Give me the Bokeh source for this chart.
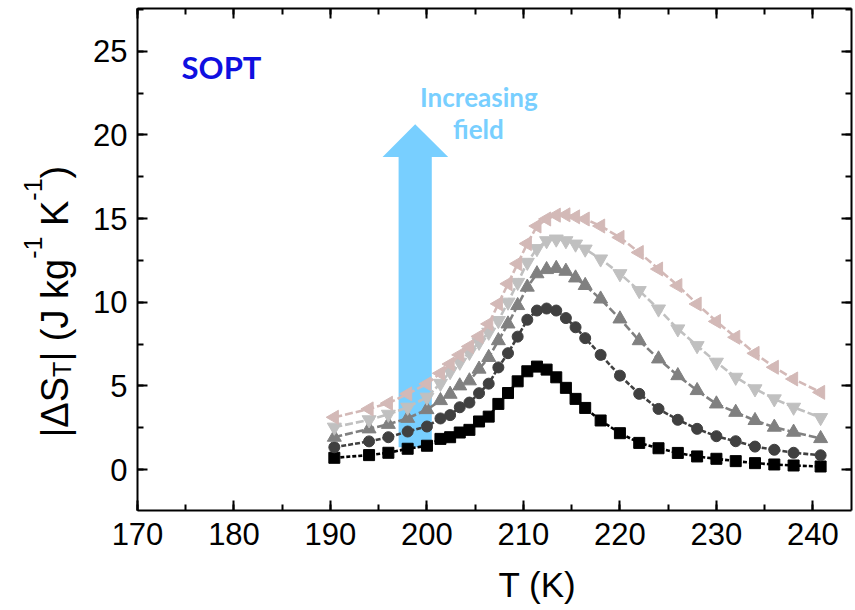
import math
from bokeh.plotting import figure
from bokeh.layouts import row, column
from bokeh.models import Range1d, LinearAxis, SingleIntervalTicker
from bokeh.core.properties import value
from bokeh.embed import file_html
from bokeh.resources import INLINE

# ---------------- data ----------------
T = [190.4, 194, 196, 198, 200, 201.4, 202.4, 203.4, 204.4, 205.4, 206.4,
     207.4, 208.4, 209.4, 210.4, 211.4, 212.4, 213.4, 214.4, 215.4, 216.4,
     218, 220, 222, 224, 226, 228, 230, 232, 234, 236, 238, 240.8]

S_sq = [0.70, 0.86, 1.00, 1.24, 1.42, 1.83, 1.93, 2.21, 2.37, 2.87, 3.16,
        3.92, 4.57, 5.27, 5.87, 6.15, 5.97, 5.51, 4.88, 4.22, 3.68,
        2.93, 2.17, 1.59, 1.27, 0.99, 0.78, 0.64, 0.50, 0.38, 0.30, 0.24, 0.18]

S_ci = [1.33, 1.68, 1.93, 2.27, 2.57, 3.05, 3.25, 3.72, 4.00, 4.56, 5.13,
        6.10, 6.95, 7.94, 8.95, 9.50, 9.62, 9.50, 9.05, 8.50, 7.85,
        6.85, 5.61, 4.52, 3.62, 2.97, 2.43, 1.99, 1.69, 1.37, 1.18, 1.00, 0.85]

S_up = [1.93, 2.43, 2.70, 3.06, 3.58, 4.12, 4.50, 5.00, 5.30, 6.00, 6.70,
        7.70, 8.70, 9.80, 10.90, 11.70, 11.95, 12.02, 11.85, 11.45, 11.00,
        10.19, 9.00, 7.70, 6.61, 5.61, 4.72, 3.92, 3.42, 2.93, 2.53, 2.23, 1.85]

S_dn = [2.53, 2.97, 3.30, 3.72, 4.32, 5.15, 5.85, 6.41, 7.00, 7.60, 8.20,
        8.90, 10.00, 11.18, 12.38, 13.20, 13.67, 13.77, 13.67, 13.47, 13.17,
        12.58, 11.70, 10.69, 9.59, 8.40, 7.40, 6.41, 5.51, 4.82, 4.22, 3.72, 3.10]

S_lt = [3.12, 3.62, 3.96, 4.52, 5.12, 5.75, 6.30, 6.85, 7.35, 7.95, 8.70,
        9.90, 11.10, 12.30, 13.50, 14.55, 14.97, 15.20, 15.22, 15.10, 14.97,
        14.55, 13.87, 12.97, 11.98, 10.99, 9.89, 8.85, 7.90, 6.94, 6.11, 5.41, 4.61]

series = [
    (S_sq, "square", "#000000", "4 2", 11, 0.0),
    (S_ci, "circle", "#404040", "5 2", 11, 0.0),
    (S_up, "triangle", "#808080", "8 3", 14, 0.0),
    (S_dn, "inverted_triangle", "#c0c0c0", "8 3", 14, 0.0),
    (S_lt, "triangle", "#d3b9b7", "8 3", 14, math.pi / 2),
]

X_TICK = 10
Y_TICK = 5

# annotation arrow (data units)
ARROW_X = [197.06, 200.5, 200.5, 202.2, 198.78, 195.4, 197.06]
ARROW_Y = [1.33, 1.33, 18.68, 18.68, 20.64, 18.68, 18.68]
ARROW_COLOR = "#78cfff"

TICK_FONT = "Liberation Sans"
FULL_W, FULL_H = 855, 610
TITLE_W = 82          # left strip carrying the y title
BOTTOM_H = 50         # bottom strip carrying the x title
MAIN_W = FULL_W - TITLE_W
MAIN_H = FULL_H - BOTTOM_H


def bare(width, height):
    f = figure(width=width, height=height,
               x_range=Range1d(0, width), y_range=Range1d(0, height),
               x_axis_type=None, y_axis_type=None,
               output_backend="svg", toolbar_location=None, min_border=0)
    f.outline_line_color = None
    f.background_fill_color = "white"
    f.border_fill_color = "white"
    return f


# ---------------- main figure ----------------
p = figure(width=MAIN_W, height=MAIN_H,
           x_range=Range1d(170, 244.0), y_range=Range1d(-2.45, 27.55),
           x_axis_type=None, y_axis_type=None,
           output_backend="svg", toolbar_location=None,
           min_border_left=137 - TITLE_W, min_border_right=4,
           min_border_top=8, min_border_bottom=50)
p.outline_line_color = None
p.background_fill_color = "white"
p.border_fill_color = "white"


def make_axis(ticker, labels=True):
    ax = LinearAxis(ticker=ticker)
    ax.axis_line_width = 2
    ax.axis_line_color = "black"
    ax.major_tick_line_width = 2
    ax.minor_tick_line_width = 2
    ax.major_tick_in = 10
    ax.major_tick_out = 0
    ax.minor_tick_in = 6
    ax.minor_tick_out = 0
    if labels:
        ax.major_label_text_font = TICK_FONT
        ax.major_label_text_font_size = "31px"
        ax.major_label_text_color = "black"
    else:
        ax.major_label_text_font_size = "0px"
        ax.major_label_text_color = None
        ax.major_label_standoff = 0
    return ax


xb = make_axis(SingleIntervalTicker(interval=X_TICK, num_minor_ticks=2))
xb.major_label_standoff = 12
xt = make_axis(SingleIntervalTicker(interval=X_TICK, num_minor_ticks=2), labels=False)
yl = make_axis(SingleIntervalTicker(interval=Y_TICK, num_minor_ticks=2))
yl.major_label_standoff = 10
yr = make_axis(SingleIntervalTicker(interval=Y_TICK, num_minor_ticks=2), labels=False)
p.add_layout(xb, "below")
p.add_layout(xt, "above")
p.add_layout(yl, "left")
p.add_layout(yr, "right")

# arrow behind the data
p.patch(ARROW_X, ARROW_Y, fill_color=ARROW_COLOR, line_color=None)

for ys, marker, color, dash, size, ang in series:
    p.line(T, ys, line_color=color, line_width=2.6, line_dash=dash)
    p.scatter(T, ys, marker=marker, size=size, angle=ang,
              fill_color=color, line_color=color)

# texts inside the plot
p.text(x=[174.57], y=[24.05], text=["SOPT"], text_font=value("Lato"),
       text_font_style="bold", text_font_size="31px", text_color="#0f0fe0",
       text_align="left", text_baseline="alphabetic")
p.text(x=[205.38, 205.33], y=[22.29, 20.33], text=["Increasing", "field"],
       text_font=value("Lato"), text_font_style="bold", text_font_size="26px",
       text_color=ARROW_COLOR, text_align="center", text_baseline="alphabetic")

# ---------------- y title strip (pixel units) ----------------
tf = bare(TITLE_W, FULL_H)
EM = {"|": 0.26, "Δ": 0.668, "S": 0.667, "T": 0.611, " ": 0.278, "(": 0.333,
      ")": 0.333, "J": 0.5, "k": 0.5, "g": 0.556, "K": 0.667, "-": 0.333, "1": 0.556}
TITLE_F = 38
SMALL_F = 25
BASE_X = 54
# (text, font size, baseline shift, extra advance before the piece)
pieces = [("|ΔS", TITLE_F, 0, 0.0), ("T", SMALL_F, 7, 0.0),
          ("| (J kg", TITLE_F, 0, 0.0), ("-1", SMALL_F, -22, 0.0),
          ("K", TITLE_F, 0, EM[" "] * TITLE_F), ("-1", SMALL_F, -22, 0.0),
          (")", TITLE_F, 0, 0.0)]
pos = FULL_H - 437.0
px_, py_, tx_, fs_ = [], [], [], []
for txt, fs, shift, pre in pieces:
    pos += pre
    px_.append(BASE_X + shift)
    py_.append(pos)
    tx_.append(txt)
    fs_.append(f"{fs}px")
    pos += sum(EM.get(c, 0.55) for c in txt) * fs
tf.text(x=px_, y=py_, text=tx_, angle=math.pi / 2, text_font=value(TICK_FONT),
        text_font_size=fs_, text_color="black", text_align="left",
        text_baseline="alphabetic")

# ---------------- x title strip (pixel units) ----------------
bf = bare(MAIN_W, BOTTOM_H)
bf.text(x=[515 - TITLE_W], y=[26], text=["T (K)"], text_font=value(TICK_FONT),
        text_font_size="35px", text_color="black", text_align="center",
        text_baseline="alphabetic")

layout = row(tf, column(p, bf))
open("out.html", "w").write(file_html(layout, INLINE))
